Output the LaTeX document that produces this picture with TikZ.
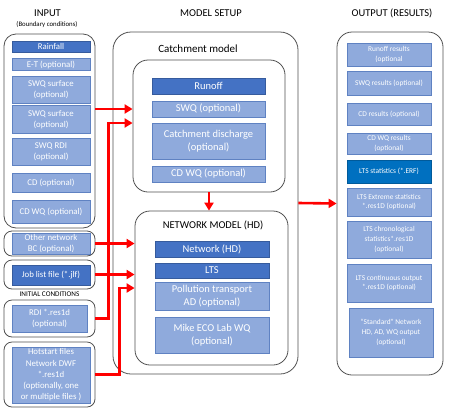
\documentclass[tikz,border=0pt]{standalone}
\usepackage{fontspec}
\setmainfont{Carlito}
\usetikzlibrary{arrows.meta}
\definecolor{itemfill}{HTML}{8FAADC}
\definecolor{itemline}{HTML}{5F82C2}
\definecolor{darkfill}{HTML}{4472C4}
\definecolor{ltsfill}{HTML}{0070C0}
\definecolor{grpline}{HTML}{505050}
\newcommand{\fs}[2]{\fontsize{#1}{#2}\selectfont}

\begin{document}
\begin{tikzpicture}[x=1pt,y=-1pt,
    itembox/.style={draw=itemline,fill=itemfill,text=white,align=center,inner sep=0pt,line width=0.8pt},
    darkbox/.style={itembox,fill=darkfill,draw=darkfill!80!black},
    groupbox/.style={draw=grpline,rounded corners=8pt,line width=0.8pt,inner sep=0pt},
    title/.style={inner sep=0pt,font=\fs{10.5}{12}},
    flow/.style={draw=red,line width=2.6pt,-{Triangle[length=8pt,width=9pt]}}]
  \useasboundingbox (0,0) rectangle (449,410);

  % titles
  \node[title] (tin) at (47.5,13) {INPUT};
  \node[inner sep=0pt,font=\fs{6.8}{8}] (tbc) at (47,25) {(Boundary conditions)};
  \node[title] (tset) at (211,13) {MODEL SETUP};
  \node[title] (tout) at (392,13) {OUTPUT (RESULTS)};

  % input
  \node[groupbox,rounded corners=12pt,minimum width=91,minimum height=194] (inp) at (49.5,131) {};
  \begin{scope}[every node/.append style={minimum width=78,font=\fs{8.8}{11.3}}]
    \node[darkbox,minimum height=11] (rain) at (51,46.5) {Rainfall};
    \node[itembox,minimum height=12] (et) at (51,64.5) {E-T (optional)};
    \node[itembox,minimum height=27] (swqa) at (51,89.5) {SWQ surface\\(optional)};
    \node[itembox,minimum height=28] (swqb) at (51,119.5) {SWQ surface\\(optional)};
    \node[itembox,minimum height=27] (swqr) at (51,152) {SWQ RDI\\(optional)};
    \node[itembox,minimum height=19] (cd) at (51,182.5) {CD (optional)};
    \node[itembox,minimum height=23] (cdwq) at (51,211.5) {CD WQ (optional)};
    \node[itembox,minimum height=21] (other) at (51,243.5) {Other network\\BC (optional)};
    \node[darkbox,minimum height=20] (job) at (51,275) {Job list file (*.jlf)};
    \node[itembox,minimum height=27,minimum width=75] (rdi) at (49.5,318.5) {RDI *.res1d\\(optional)};
    \node[itembox,minimum height=56] (hot) at (51,375) {Hotstart files\\Network DWF\\*.res1d\\(optionally, one\\or multiple files )};
  \end{scope}
  \node[groupbox,minimum width=91,minimum height=25] (otherg) at (49.5,243.5) {};
  \node[groupbox,minimum width=91,minimum height=29] (jobg) at (49.5,274.5) {};
  \node[inner sep=0pt,font=\fs{7.2}{8}] (tic) at (49.5,294) {INITIAL CONDITIONS};
  \node[groupbox,minimum width=91,minimum height=37] (rdig) at (49.5,318.5) {};
  \node[groupbox,minimum width=91,minimum height=65] (hotg) at (49.5,374.5) {};

  % model setup
  \node[groupbox,rounded corners=18pt,minimum width=185,minimum height=342] (setup) at (205.5,203) {};
  \node[groupbox,rounded corners=15pt,minimum width=152,minimum height=132] (catch) at (209,126) {};
  \node[inner sep=0pt,font=\fs{11}{12}] (tcatch) at (198,49) {Catchment model};
  \begin{scope}[every node/.append style={minimum width=113,font=\fs{10.5}{13}}]
    \node[darkbox,minimum height=16] (runoff) at (208.5,86) {Runoff};
    \node[itembox,minimum height=16] (swq) at (208.5,109) {SWQ (optional)};
    \node[itembox,minimum height=36] (cdis) at (208.5,141) {Catchment discharge\\(optional)};
    \node[itembox,minimum height=16] (cdwqm) at (208.5,174) {CD WQ (optional)};
  \end{scope}
  \node[groupbox,rounded corners=15pt,minimum width=153,minimum height=154] (net) at (211.5,288) {};
  \node[inner sep=0pt,font=\fs{10.5}{12}] (tnet) at (213,225) {NETWORK MODEL (HD)};
  \begin{scope}[every node/.append style={minimum width=114,font=\fs{10.5}{13.5}}]
    \node[darkbox,minimum height=16] (nethd) at (212,249) {Network (HD)};
    \node[darkbox,minimum height=15] (lts) at (212,270.5) {LTS};
    \node[itembox,minimum height=28] (poll) at (212,296) {Pollution transport\\AD (optional)};
    \node[itembox,minimum height=36] (mike) at (212,335) {Mike ECO Lab WQ\\(optional)};
  \end{scope}

  % output
  \node[groupbox,rounded corners=15pt,minimum width=106,minimum height=343] (out) at (390,203.5) {};
  \begin{scope}[every node/.append style={minimum width=84,font=\fs{7.4}{9.7}}]
    \node[itembox,minimum height=23] (ra) at (389,54.5) {Runoff results\\(optional};
    \node[itembox,minimum height=24] (rb) at (389,83) {SWQ results (optional)};
    \node[itembox,minimum height=22] (rc) at (389,114) {CD results (optional)};
    \node[itembox,minimum height=21] (rd) at (389,143.5) {CD WQ results\\(optional)};
    \node[darkbox,fill=ltsfill,draw=ltsfill!80!black,minimum height=23] (re) at (389,171.5) {LTS statistics (*.ERF)};
    \node[itembox,minimum height=28] (rf) at (389,202) {LTS Extreme statistics\\*.res1D (optional)};
    \node[itembox,minimum height=37] (rg) at (389,239.5) {LTS chronological\\statistics*.res1D\\(optional)};
    \node[itembox,minimum height=38] (rh) at (389,283) {LTS continuous output\\*.res1D (optional)};
    \node[itembox,minimum height=49] (ri) at (391,332.5) {“Standard” Network\\HD, AD, WQ output\\(optional)};
  \end{scope}

  % connectors
  \draw[flow] (inp.east |- swq) -- (catch.west |- swq);
  \draw[flow] (rdig.east) -- ++(13,0) |- ([yshift=3pt]catch.west);
  \draw[flow] (otherg.east) -- (otherg.east -| net.west);
  \draw[flow] (jobg.east) -- (jobg.east -| net.west);
  \draw[flow] (hotg.east) -- ++(24,0) |- (net.west);
  \draw[flow] (catch.south) -- (catch.south |- net.north);
  \draw[flow] (setup.east) -- (out.west);
\end{tikzpicture}
\end{document}
